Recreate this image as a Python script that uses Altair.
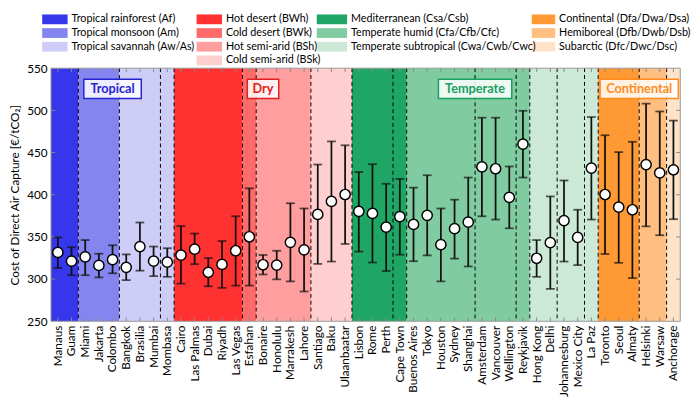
import altair as alt
import pandas as pd

# ---------------- data ----------------
cities = ["Manaus", "Guam", "Miami", "Jakarta", "Colombo", "Bangkok", "Brasilia", "Mumbai",
          "Mombasa", "Cairo", "Las Palmas", "Dubai", "Riyadh", "Las Vegas", "Esfahan",
          "Bonaire", "Honolulu", "Marrakesh", "Lahore", "Santiago", "Baku", "Ulaanbaatar",
          "Lisbon", "Rome", "Perth", "Cape Town", "Buenos Aires", "Tokyo", "Houston",
          "Sydney", "Shanghai", "Amsterdam", "Vancouver", "Wellington", "Reykjavik",
          "Hong Kong", "Delhi", "Johannesburg", "Mexico City", "La Paz", "Toronto", "Seoul",
          "Almaty", "Helsinki", "Warsaw", "Anchorage"]
cost_mid = [331.6, 321.2, 326.3, 316.2, 323.1, 313.9, 338.6, 321.2, 320.0, 328.5, 335.5,
            308.1, 317.4, 333.6, 350.2, 317.0, 316.6, 343.6, 334.7, 376.7, 392.2, 400.3,
            380.4, 377.9, 361.7, 374.1, 364.8, 375.6, 340.9, 359.8, 367.5, 433.1, 430.8,
            396.9, 460.1, 324.7, 343.2, 369.4, 349.4, 431.6, 400.3, 385.3, 382.2, 435.8,
            425.8, 429.6]
cost_hi = [349.4, 337.8, 346.3, 330.1, 340.1, 329.3, 367.1, 338.6, 336.6, 362.9, 354.0,
           325.0, 345.1, 374.5, 407.6, 328.6, 333.6, 389.9, 383.7, 435.8, 463.2, 458.6,
           427.0, 436.2, 413.0, 418.8, 408.4, 423.1, 383.7, 394.1, 420.4, 491.3, 491.3,
           433.5, 499.5, 346.3, 398.0, 416.9, 382.2, 492.1, 470.5, 450.5, 462.8, 508.0,
           498.7, 487.9]
cost_lo = [313.1, 304.6, 304.6, 302.0, 306.9, 298.8, 310.0, 303.5, 302.7, 294.6, 317.7,
           291.5, 289.6, 292.3, 292.3, 305.5, 299.7, 297.3, 285.3, 318.0, 320.8, 341.7,
           332.6, 319.7, 309.6, 328.9, 321.2, 328.1, 297.3, 324.3, 315.0, 374.5, 370.6,
           360.2, 420.4, 302.7, 288.4, 320.8, 316.6, 370.6, 329.7, 319.3, 301.2, 362.5,
           352.0, 371.0]

# climate zones: code, first city index, end index (exclusive)
zone_codes = ["Af", "Am", "Aw", "BWh", "BWk", "BSh", "BSk", "Cs", "Cf", "Cw", "Dfa", "Dfb", "Dfc"]
zone_start = [0, 2, 5, 9, 14, 15, 19, 22, 26, 35, 40, 43, 45]
zone_end = [2, 5, 9, 14, 15, 19, 22, 26, 35, 40, 43, 45, 46]
zone_colors = ["#3636ea", "#8585ef", "#cdcdf7", "#ff3131", "#ff6a6a", "#ff9e9e", "#ffcfcf",
               "#1fa665", "#80cca0", "#cce9d7", "#ff9933", "#ffbf80", "#ffe3c8"]
zone_labels = ["Tropical rainforest (Af)", "Tropical monsoon (Am)", "Tropical savannah (Aw/As)",
               "Hot desert (BWh)", "Cold desert (BWk)", "Hot semi-arid (BSh)",
               "Cold semi-arid (BSk)", "Mediterranean (Csa/Csb)",
               "Temperate humid (Cfa/Cfb/Cfc)", "Temperate subtropical (Cwa/Cwb/Cwc)",
               "Continental (Dfa/Dwa/Dsa)", "Hemiboreal (Dfb/Dwb/Dsb)", "Subarctic (Dfc/Dwc/Dsc)"]
legend_col = [0, 0, 0, 1, 1, 1, 1, 2, 2, 2, 3, 3, 3]
legend_row = [0, 1, 2, 0, 1, 2, 3, 0, 1, 2, 0, 1, 2]

# dashed separators (between city indices)
separators = [2, 5, 8, 9, 14, 15, 19, 22, 25, 26, 31, 34, 35, 37, 39, 40, 43, 45]

# main groups
group_names = ["Tropical", "Dry", "Temperate", "Continental"]
group_start = [0, 9, 22, 40]
group_end = [9, 22, 40, 46]
group_colors = ["#2424d0", "#e02020", "#17a060", "#ff8a1e"]
group_halfwidth = [2.1, 1.15, 2.68, 2.86]

y_ticks = [250, 300, 350, 400, 450, 500, 550]

# ---------------- layout constants ----------------
W, H = 644, 259
FONT = "Lato"
N = len(cities)

pts = pd.DataFrame({"city": cities, "xi": [i + 0.5 for i in range(N)],
                    "mid": cost_mid, "lo": cost_lo, "hi": cost_hi})
zones = pd.DataFrame({"code": zone_codes, "x0": zone_start, "x1": zone_end})
seps = pd.DataFrame({"b": separators})
groups = pd.DataFrame({"name": group_names,
                       "c": [(a + b) / 2 for a, b in zip(group_start, group_end)],
                       "hw": group_halfwidth})
groups["x0"] = groups["c"] - groups["hw"]
groups["x1"] = groups["c"] + groups["hw"]

xscale = alt.Scale(domain=[0, N], nice=False, zero=False)
yscale = alt.Scale(domain=[250, 550], nice=False, zero=False)
zone_scale = alt.Scale(domain=zone_codes, range=zone_colors)
group_scale = alt.Scale(domain=group_names, range=group_colors)

xaxis = alt.Axis(title=None, ticks=False, domain=False, grid=False, labelFontSize=12,
                 labelFont=FONT, labelPadding=4, labelOverlap=False, labelAngle=270,
                 labelColor="black", orient="bottom")
yaxis = alt.Axis(values=y_ticks, title="Cost of Direct Air Capture [€/tCO₂]", ticks=False,
                 domain=False, grid=False, labelFontSize=12, labelFont=FONT, labelPadding=4,
                 labelFlush=False, titleFont=FONT, titleFontSize=12, titleFontWeight="normal",
                 titlePadding=5, labelColor="black", titleColor="black")

def qx(field):
    return alt.X(field, scale=xscale, axis=None)

base_zone = alt.Chart(zones).mark_rect(opacity=1).encode(
    x=qx("x0:Q"),
    x2="x1:Q",
    y=alt.Y(datum=550, scale=yscale, axis=yaxis),
    y2=alt.datum(250),
    fill=alt.Color("code:N", scale=zone_scale, legend=None),
)

# invisible layer that carries the city axis (band scale)
axis_layer = alt.Chart(pts).mark_point(opacity=0).encode(
    x=alt.X("city:N", sort=cities,
            scale=alt.Scale(type="band", paddingInner=0, paddingOuter=0), axis=xaxis),
    y="mid:Q")

sep_layer = alt.Chart(seps).mark_rule(color="black", strokeWidth=1, strokeDash=[4, 3]).encode(
    x=qx("b:Q"), y=alt.datum(550), y2=alt.datum(250))

# decorative inner ticks
xt = pd.DataFrame({"xi": [i + 0.5 for i in range(N)]})
xt_bot = alt.Chart(xt).mark_rule(color="#888", strokeWidth=1).encode(
    x=qx("xi:Q"), y=alt.datum(250), y2=alt.datum(254.5))
xt_top = alt.Chart(xt).mark_rule(color="#888", strokeWidth=1).encode(
    x=qx("xi:Q"), y=alt.datum(545.5), y2=alt.datum(550))
yt = pd.DataFrame({"v": y_ticks[1:-1]})
yt_left = alt.Chart(yt).mark_rule(color="#888", strokeWidth=1).encode(
    y="v:Q", x=alt.X(datum=0, scale=xscale, axis=None), x2=alt.datum(0.3))
yt_right = alt.Chart(yt).mark_rule(color="#888", strokeWidth=1).encode(
    y="v:Q", x=alt.X(datum=N - 0.3, scale=xscale, axis=None), x2=alt.datum(N))

bars = alt.Chart(pts).mark_rule(color="#111", strokeWidth=1.8).encode(
    x=qx("xi:Q"), y="lo:Q", y2="hi:Q")
cap_lo = alt.Chart(pts).mark_tick(color="#111", orient="horizontal", size=9, thickness=1.8).encode(
    x=qx("xi:Q"), y="lo:Q")
cap_hi = alt.Chart(pts).mark_tick(color="#111", orient="horizontal", size=9, thickness=1.8).encode(
    x=qx("xi:Q"), y="hi:Q")
dots = alt.Chart(pts).mark_point(filled=True, fill="white", stroke="black", strokeWidth=1.5,
                                 size=110, opacity=1, shape="circle").encode(
    x=qx("xi:Q"), y="mid:Q")

gbox = alt.Chart(groups).mark_rect(fill="white", fillOpacity=0.85, strokeWidth=1.5).encode(
    x=qx("x0:Q"), x2="x1:Q", y=alt.datum(537), y2=alt.datum(514),
    stroke=alt.Color("name:N", scale=group_scale, legend=None))
gtext = alt.Chart(groups).mark_text(font=FONT, fontSize=13, fontWeight="bold",
                                    baseline="middle", align="center").encode(
    x=qx("c:Q"), y=alt.datum(525.5), text="name:N",
    color=alt.Color("name:N", scale=group_scale, legend=None))

frame = alt.Chart(pd.DataFrame({"a": [0]})).mark_rect(fillOpacity=0, stroke="#999",
                                                      strokeWidth=1).encode(
    x=alt.X(datum=0, scale=xscale, axis=None), x2=alt.datum(N),
    y=alt.datum(550), y2=alt.datum(250))

main = alt.layer(base_zone, axis_layer, sep_layer, xt_bot, xt_top, yt_left, yt_right, bars,
                 cap_lo, cap_hi, dots, gbox, gtext, frame).resolve_scale(
    x="independent").properties(width=W, height=H,
                                view=alt.ViewBackground(stroke="transparent"))

# ---------------- legend (positions relative to the plot's left edge) ----------------
LW, LH = W, 54
sw_x0 = [-9, 149, 272, 492]
sw_x1 = [17, 175, 303, 516]
txt_x = [21, 179, 307, 520]
row_y = [6, 20, 34, 48]

leg = pd.DataFrame({"code": zone_codes, "label": zone_labels,
                    "x0": [sw_x0[c] for c in legend_col],
                    "x1": [sw_x1[c] for c in legend_col],
                    "tx": [txt_x[c] for c in legend_col],
                    "ry": [row_y[r] for r in legend_row]})
leg["y0"] = leg["ry"] - 5
leg["y1"] = leg["ry"] + 5

lx = alt.Scale(domain=[0, LW], nice=False, zero=False)
ly = alt.Scale(domain=[0, LH], nice=False, zero=False, reverse=True)
leg_sw = alt.Chart(leg).mark_rect().encode(
    x=alt.X("x0:Q", scale=lx, axis=None), x2="x1:Q",
    y=alt.Y("y0:Q", scale=ly, axis=None), y2="y1:Q",
    fill=alt.Color("code:N", scale=zone_scale, legend=None))
leg_tx = alt.Chart(leg).mark_text(font=FONT, fontSize=11, align="left", baseline="middle",
                                  color="black").encode(
    x=alt.X("tx:Q", scale=lx, axis=None), y=alt.Y("ry:Q", scale=ly, axis=None), text="label:N")
legend = alt.layer(leg_sw, leg_tx).properties(
    width=LW, height=LH, view=alt.ViewBackground(stroke="transparent"))

chart = alt.vconcat(legend, main, spacing=2, bounds="flush").properties(
    padding=0).configure(font=FONT)

chart.save("out.html", embed_options={"renderer": "svg", "actions": False})
